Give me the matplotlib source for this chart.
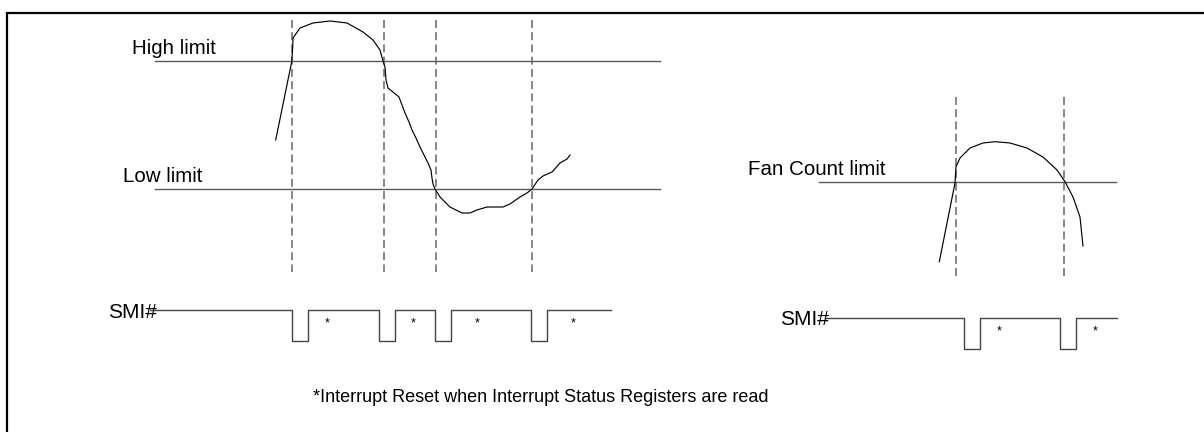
from matplotlib import pyplot as plt

# pixel coordinates (x to the right, y downwards)
# left panel: temperature/voltage style signal
sig_x = [275.7, 291.7, 292.7, 293, 300, 313, 330, 347, 363, 373, 380, 383,
         385, 386, 388, 393, 399, 402, 405, 409, 412, 416, 420, 424, 428,
         431, 432, 433, 435, 440, 450, 462, 470, 477, 487, 503, 510, 520,
         527, 532, 538, 543, 552, 560, 567, 570]
sig_y = [140, 61.7, 47, 38, 28, 23, 21, 23, 32, 40, 50, 61,
         67, 80, 88, 92, 97, 105, 113, 122, 130, 138, 147, 155, 163,
         170, 178, 184, 189, 197, 207, 213, 213, 210, 207, 207, 204, 197,
         193, 189, 180, 176, 172, 163, 159, 155]
high_limit = 61
low_limit = 189
limit_x = [155, 660]
left_marks = [291.7, 384, 435.5, 532]

# right panel: fan count signal
fan_x = [939.3, 955, 956, 960, 970, 983, 995, 1010, 1027, 1043, 1057,
         1065, 1073, 1080, 1083]
fan_y = [261.7, 183, 166.7, 158, 148, 143, 141.7, 143, 148, 157, 170,
         181.7, 197, 217, 246]
fan_limit = 181.7
fan_limit_x = [819, 1116]
right_marks = [956, 1064]

# SMI# waveforms: (start, end, high level, low level, pulse edges)
smi_left = dict(x0=150, x1=611, hi=310, lo=341,
                pulses=[(291.7, 308), (379, 395), (435, 451), (531, 547)])
smi_right = dict(x0=826, x1=1117, hi=317.7, lo=349,
                 pulses=[(963.7, 979.7), (1059.7, 1075.7)])
stars_left = [327, 413.5, 477.5, 573]
stars_right = [998.7, 1095]

fig = plt.figure(figsize=(12.04, 4.32), dpi=100)
ax = fig.add_axes([0, 0, 1, 1])
ax.set_xlim(0, 1204)
ax.set_ylim(432, 0)
ax.axis('off')

font = ['Liberation Sans', 'DejaVu Sans']

# frame (only top and left edges are visible)
ax.plot([7, 1204], [12.5, 12.5], color='black', lw=1.6, solid_capstyle='butt')
ax.plot([7, 7], [11.5, 432], color='black', lw=1.6, solid_capstyle='butt')

# limit lines
ax.plot(limit_x, [high_limit, high_limit], color='#5a5a5a', lw=1.0)
ax.plot(limit_x, [low_limit, low_limit], color='#5a5a5a', lw=1.0)
ax.plot(fan_limit_x, [fan_limit, fan_limit], color='#5a5a5a', lw=1.0)

# dashed markers
for x in left_marks:
    ax.plot([x, x], [20, 272], color='#666666', lw=1.1, dashes=(5.2, 2.8))
for x in right_marks:
    ax.plot([x, x], [97, 277], color='#666666', lw=1.1, dashes=(5.2, 2.8))

# signals
ax.plot(sig_x, sig_y, color='black', lw=0.85)
ax.plot(fan_x, fan_y, color='black', lw=0.85)


def smi(d):
    xs = [d['x0']]
    ys = [d['hi']]
    for a, b in d['pulses']:
        xs += [a, a, b, b]
        ys += [d['hi'], d['lo'], d['lo'], d['hi']]
    xs.append(d['x1'])
    ys.append(d['hi'])
    ax.plot(xs, ys, color='#444444', lw=1.0)


smi(smi_left)
smi(smi_right)

for x in stars_left:
    ax.text(x, 326, '*', ha='center', va='baseline', fontsize=9, family=font)
for x in stars_right:
    ax.text(x, 334, '*', ha='center', va='baseline', fontsize=9, family=font)

# labels
ax.text(132, 54, 'High limit', fontsize=14.8, va='baseline', family=font)
ax.text(123, 182, 'Low limit', fontsize=14.8, va='baseline', family=font)
ax.text(748, 175, 'Fan Count limit', fontsize=14.8, va='baseline', family=font)
ax.text(108, 318, 'SMI#', fontsize=15, va='baseline', family=font)
ax.text(780, 325, 'SMI#', fontsize=15, va='baseline', family=font)
ax.text(313, 402, '*Interrupt Reset when Interrupt Status Registers are read',
        fontsize=13, va='baseline', family=font)

fig.savefig('out.png', dpi=100)
